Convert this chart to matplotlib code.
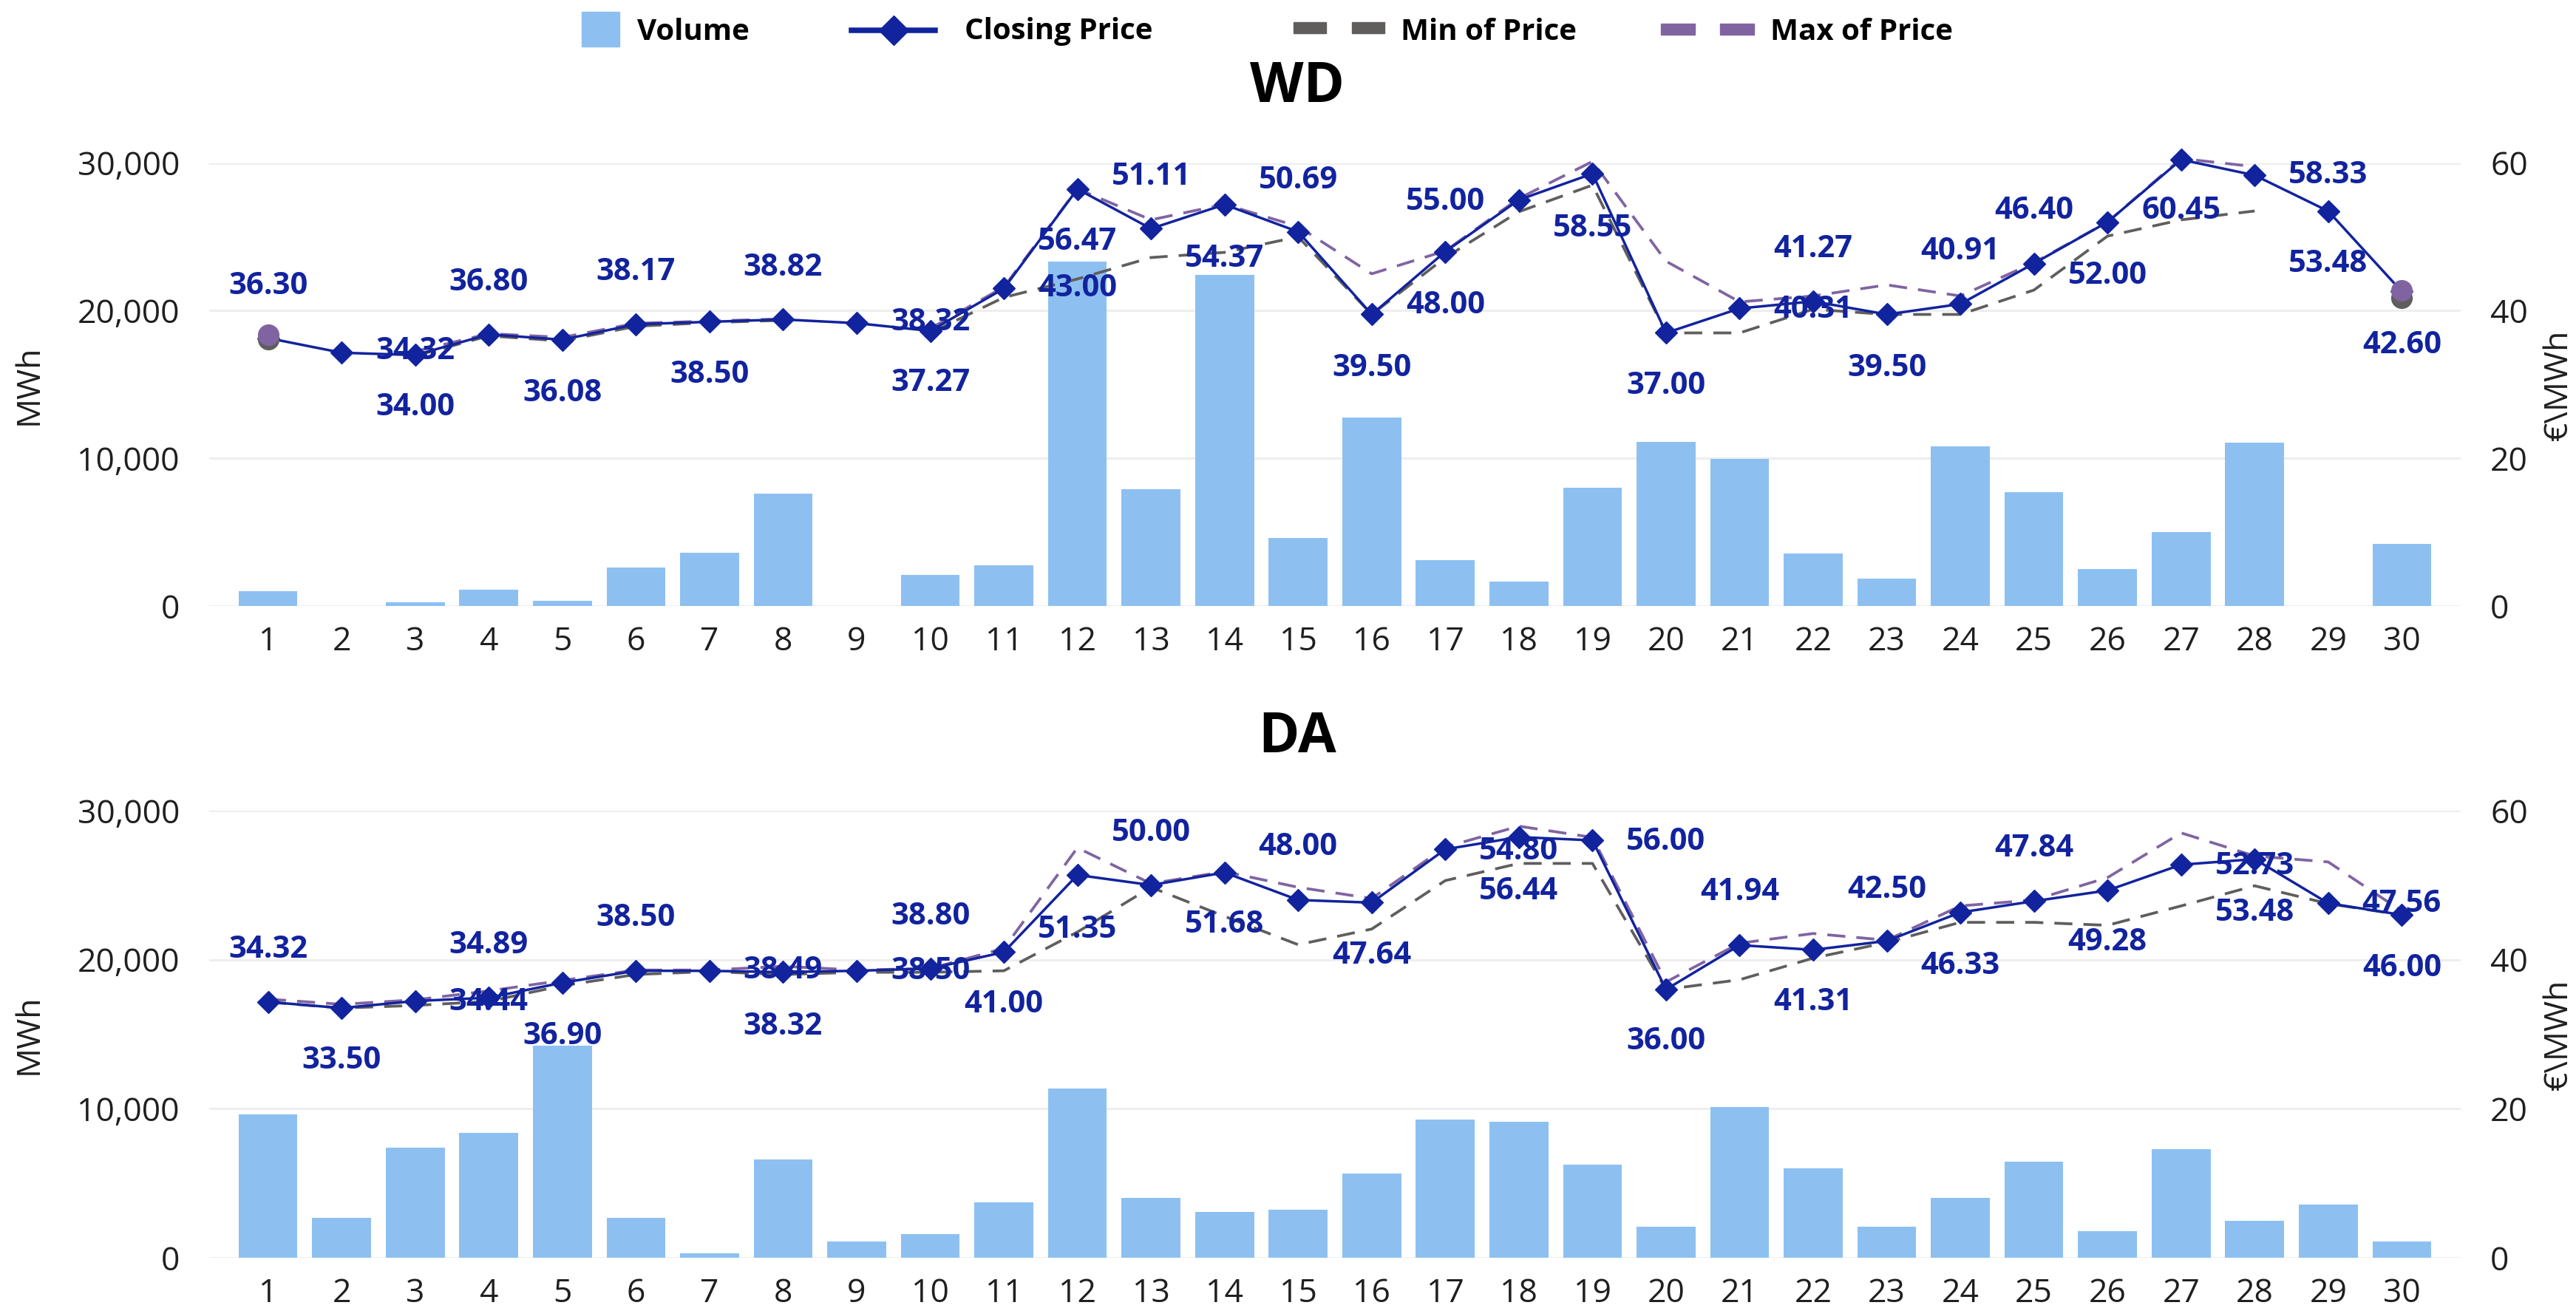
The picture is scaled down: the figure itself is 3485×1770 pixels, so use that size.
import numpy as np
import matplotlib
matplotlib.use("Agg")
import matplotlib.pyplot as plt
from matplotlib.lines import Line2D
from matplotlib.patches import Rectangle
from matplotlib.ticker import FuncFormatter

plt.rcParams['font.family'] = ['Open Sans', 'DejaVu Sans']

# ---------------- data ----------------
days = list(range(1, 31))
day_labels = [str(d) for d in days]
nan = np.nan

wd_volume = [1000, 0, 280, 1100, 380, 2600, 3600, 7600, 0, 2100,
             2750, 23300, 7900, 22400, 4600, 12750, 3100, 1650, 8000, 11100,
             9950, 3550, 1850, 10800, 7700, 2500, 5000, 11050, 0, 4200]
wd_close = [36.30, 34.32, 34.00, 36.80, 36.08, 38.17, 38.50, 38.82, 38.32, 37.27,
            43.00, 56.47, 51.11, 54.37, 50.69, 39.50, 48.00, 55.00, 58.55, 37.00,
            40.31, 41.27, 39.50, 40.91, 46.40, 52.00, 60.45, 58.33, 53.48, 42.60]
wd_min = [36.10, nan, 33.90, 36.60, 35.90, 37.90, 38.40, 38.70, nan, 37.00,
          41.80, 44.30, 47.20, 47.90, 50.00, 39.50, 47.20, 53.40, 57.00, 37.00,
          37.00, 40.20, 39.50, 39.50, 42.80, 50.10, 52.30, 53.50, nan, 41.70]
wd_max = [36.75, nan, 34.50, 36.90, 36.40, 38.30, 38.60, 38.90, nan, 37.60,
          43.20, 56.50, 52.30, 54.40, 51.40, 45.00, 48.10, 55.20, 60.20, 46.70,
          41.20, 42.00, 43.50, 42.00, 46.50, 52.00, 60.60, 59.50, nan, 42.75]

da_volume = [9600, 2700, 7400, 8400, 14250, 2700, 300, 6600, 1100, 1600,
             3700, 11350, 4000, 3050, 3200, 5650, 9250, 9100, 6250, 2100,
             10100, 6000, 2100, 4000, 6450, 1800, 7300, 2500, 3550, 1100]
da_close = [34.32, 33.50, 34.44, 34.89, 36.90, 38.50, 38.49, 38.32, 38.50, 38.80,
            41.00, 51.35, 50.00, 51.68, 48.00, 47.64, 54.80, 56.44, 56.00, 36.00,
            41.94, 41.31, 42.50, 46.33, 47.84, 49.28, 52.73, 53.48, 47.56, 46.00]
da_min = [34.30, 33.50, 33.85, 34.40, 36.50, 38.00, 38.40, 38.00, 38.30, 38.30,
          38.50, 43.70, 49.70, 45.80, 42.00, 44.10, 50.60, 52.90, 52.90, 36.00,
          37.30, 40.20, 42.30, 45.00, 45.00, 44.60, 47.20, 49.90, 47.50, 46.00]
da_max = [34.70, 34.00, 34.60, 35.80, 37.20, 38.60, 38.60, 39.10, 38.60, 38.80,
          41.50, 55.00, 50.20, 51.80, 49.70, 48.20, 55.10, 57.90, 56.40, 37.00,
          42.20, 43.50, 42.60, 47.20, 48.00, 51.00, 57.00, 53.90, 53.10, 46.50]

# data-label placement: which day's value, drawn at which day, vertical offset (px, + = down)
wd_lab_src = list(range(1, 31))
wd_lab_at = [1, 3, 3, 4, 5, 6, 7, 8, 10, 10, 12, 12, 13, 14, 15, 16, 17, 17, 19, 20,
             22, 22, 23, 24, 25, 26, 27, 29, 29, 30]
wd_lab_off = [-70, -5, 71, -70, 73, -70, 72, -70, -11, 71, 135, 72, -70, 74, -69, 73, 73, -67, 75, 72,
              12, -70, 73, -71, -71, 73, 69, -48, 72, 73]
da_lab_src = list(range(1, 31))
da_lab_at = [1, 2, 4, 4, 5, 6, 8, 8, 10, 10, 11, 12, 13, 14, 15, 16, 18, 18, 20, 20,
             21, 22, 23, 24, 25, 26, 28, 28, 30, 30]
da_lab_off = [-70, 71, 6, -71, 73, -71, -2, 74, 4, -70, 71, 74, -70, 71, -71, 72, 20, 74, -199, 71,
              -71, 71, -69, 73, -71, 71, 10, 73, -15, 72]

# ---------------- style ----------------
BAR = '#8DC0F1'
BLUE = '#12239E'
MINC = '#605E5C'
MAXC = '#8064A2'
GRID = '#EDEDED'
TXT = '#1F1F1F'

DPI = 100
W, H = 3485, 1770
fig = plt.figure(figsize=(W / DPI, H / DPI), dpi=DPI)


def pt(p):
    return p * 72.0 / DPI


def isolated(vals):
    v = np.array(vals, dtype=float)
    ok = ~np.isnan(v)
    left = np.r_[False, ok[:-1]]
    right = np.r_[ok[1:], False]
    return ok & ~left & ~right


def panel(top_px, bot_px, title, title_px, vol, close, lo, hi, l_src, l_at, l_off):
    left_px, right_px = 283, 3329
    ax = fig.add_axes([left_px / W, 1 - bot_px / H, (right_px - left_px) / W, (bot_px - top_px) / H])
    ax2 = ax.twinx()
    x = np.array(days)
    ax.bar(x, vol, width=0.8, color=BAR, zorder=2)
    ax.set_xlim(0.2, 30.8)
    ax.set_ylim(0, 30000)
    ax.set_yticks([0, 10000, 20000, 30000])
    ax.yaxis.set_major_formatter(FuncFormatter(lambda v, p: f"{int(v):,}"))
    ax.set_xticks(x)
    ax.set_xticklabels(day_labels)
    ax.grid(axis='y', color=GRID, lw=2.0, zorder=0)
    ax.set_axisbelow(True)
    ax2.set_ylim(0, 60)
    ax2.set_yticks([0, 20, 40, 60])
    for a in (ax, ax2):
        for s in a.spines.values():
            s.set_visible(False)
    ax.tick_params(axis='y', length=0, pad=pt(40), labelsize=32, labelcolor=TXT)
    ax.tick_params(axis='x', length=0, pad=pt(26), labelsize=32, labelcolor=TXT)
    ax2.tick_params(axis='y', length=0, pad=pt(40), labelsize=32, labelcolor=TXT)

    lo_a = np.array(lo, dtype=float)
    hi_a = np.array(hi, dtype=float)
    ax2.plot(x, lo_a, color=MINC, lw=2.7, dashes=(6.5, 4), zorder=3, clip_on=False)
    ax2.plot(x, hi_a, color=MAXC, lw=2.7, dashes=(6.5, 4), zorder=4, clip_on=False)
    ax2.plot(x, close, color=BLUE, lw=2.5, marker='D', ms=15, zorder=5, clip_on=False)
    il = isolated(lo)
    ih = isolated(hi)
    ax2.plot(x[il], lo_a[il], 'o', ms=20, color=MINC, zorder=6, clip_on=False)
    ax2.plot(x[ih], hi_a[ih], 'o', ms=20, color=MAXC, zorder=7, clip_on=False)

    for s, a_, o in zip(l_src, l_at, l_off):
        ax2.annotate(f"{close[s - 1]:.2f}", xy=(a_, close[a_ - 1]), xytext=(0, -pt(o)),
                     textcoords='offset points', ha='center', va='center',
                     fontsize=30, fontweight='bold', color=BLUE, zorder=8,
                     annotation_clip=False)

    mid = (top_px + bot_px) / 2
    fig.text(39 / W, 1 - mid / H, 'MWh', rotation=90, ha='center', va='center', fontsize=32, color=TXT)
    fig.text(3462 / W, 1 - mid / H, '€\\MWh', rotation=90, ha='center', va='center', fontsize=32, color=TXT)
    fig.text(1755 / W, 1 - title_px / H, title, ha='center', va='center', fontsize=54,
             fontweight='bold', color='black')


panel(220.5, 820.5, 'WD', 119, wd_volume, wd_close, wd_min, wd_max, wd_lab_src, wd_lab_at, wd_lab_off)
panel(1096.8, 1702, 'DA', 999, da_volume, da_close, da_min, da_max, da_lab_src, da_lab_at, da_lab_off)

# ---------------- legend ----------------
ly = 1 - 43 / H
fig.add_artist(Rectangle((787 / W, 1 - 63 / H), 51 / W, 47 / H, transform=fig.transFigure, color=BAR))
fig.text(862 / W, ly, 'Volume', ha='left', va='center', fontsize=29, fontweight='bold', color='black')
fig.add_artist(Line2D([1152 / W, 1265 / W], [1 - 41 / H] * 2, transform=fig.transFigure, color=BLUE, lw=pt(7.5)))
fig.add_artist(Line2D([1209 / W], [1 - 41 / H], transform=fig.transFigure, color=BLUE, marker='D', ms=20, lw=0))
fig.text(1305 / W, ly, 'Closing Price', ha='left', va='center', fontsize=29, fontweight='bold', color='black')
for x0 in (1750, 1829):
    fig.add_artist(Rectangle((x0 / W, 1 - 45 / H), 44 / W, 15 / H, transform=fig.transFigure, color=MINC))
fig.text(1895 / W, ly, 'Min of Price', ha='left', va='center', fontsize=29, fontweight='bold', color='black')
for x0 in (2247, 2327):
    fig.add_artist(Rectangle((x0 / W, 1 - 47 / H), 46 / W, 15 / H, transform=fig.transFigure, color=MAXC))
fig.text(2395 / W, ly, 'Max of Price', ha='left', va='center', fontsize=29, fontweight='bold', color='black')

fig.savefig('out.png', dpi=DPI, facecolor='white')
